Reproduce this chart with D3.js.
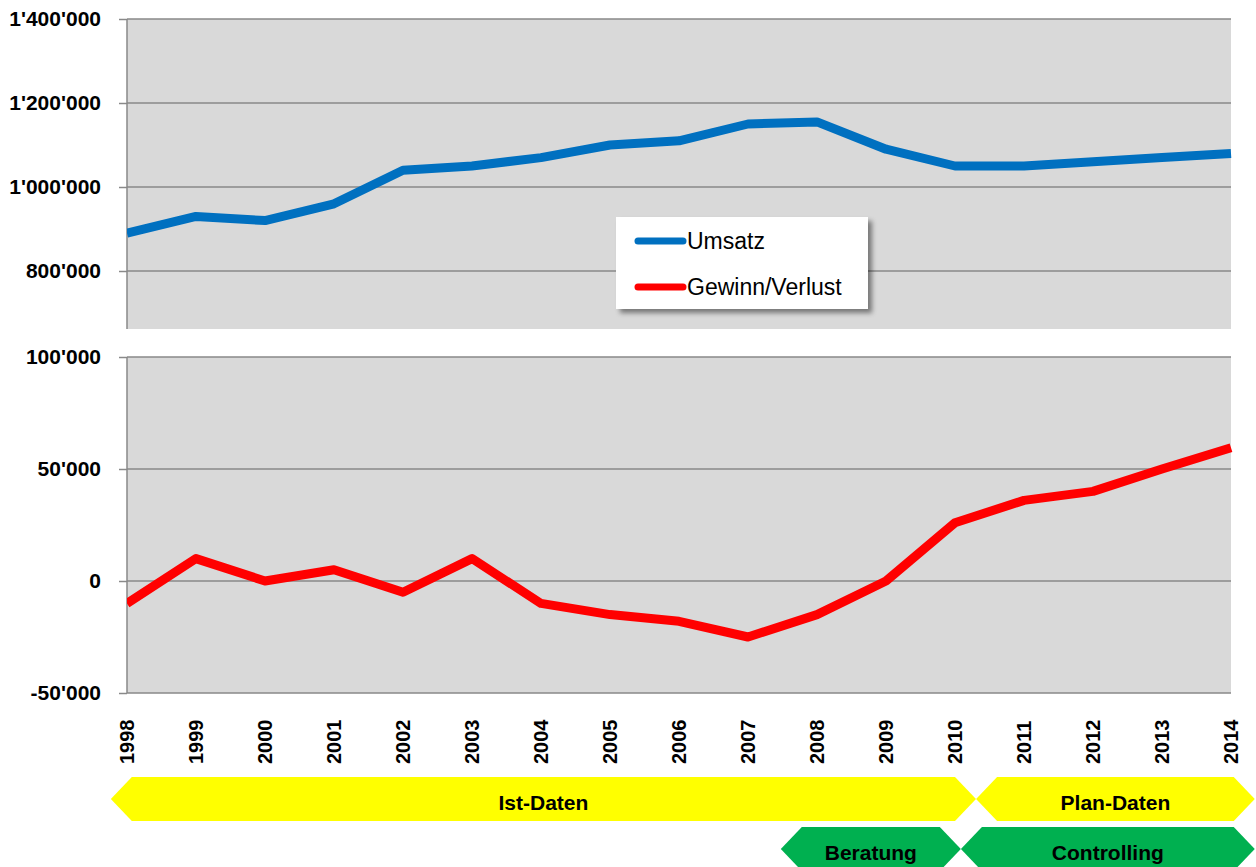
<!DOCTYPE html>
<html>
<head>
<meta charset="utf-8">
<script src="https://cdn.jsdelivr.net/npm/d3@7"></script>
<style>
  html, body { margin: 0; padding: 0; background: #fff; }
  svg { display: block; font-family: "Liberation Sans", Arial, sans-serif; }
</style>
</head>
<body>
<svg id="chart" width="1256" height="867"></svg>
<script>
// ---- data ----
const years = [1998,1999,2000,2001,2002,2003,2004,2005,2006,2007,2008,2009,2010,2011,2012,2013,2014];
const umsatz = [890000,930000,920000,960000,1040000,1050000,1070000,1100000,1110000,1150000,1155000,1090000,1050000,1050000,1060000,1070000,1080000];
const gewinn = [-10000,10000,0,5000,-5000,10000,-10000,-15000,-18000,-25000,-15000,0,26000,36000,40000,50000,59500];
const topTicks = [800000,1000000,1200000,1400000];
const bottomTicks = [-50000,0,50000,100000];
const seriesNames = ["Umsatz","Gewinn/Verlust"];
const phaseLabels = ["Ist-Daten","Plan-Daten","Beratung","Controlling"];
const phaseStart = [1998.07,2010.61,2007.78,2010.39];
const phaseEnd   = [2010,2014.04,2009.78,2014.04];
const phaseRow   = [0,0,1,1];

// ---- layout ----
const svg = d3.select("#chart");
const colors = { blue: "#0070C0", red: "#FF0000", grid: "#898989", bg: "#D9D9D9", yellow: "#FFFF00", green: "#00B050" };
const x = d3.scaleLinear().domain([1998, 2014]).range([127, 1231]);
const yTop = d3.scaleLinear().domain([800000, 1400000]).range([271, 19]);
const yBot = d3.scaleLinear().domain([-50000, 100000]).range([693, 357]);
const topPanel = { y0: 19, y1: 329 };
const botPanel = { y0: 357, y1: 693 };
const fmt = v => d3.format(",")(v).replace(/,/g, "'").replace(/\u2212/g, "-");

function panel(yScale, p, ticks, data, color, clipId) {
  svg.append("rect").attr("x", x(1998)).attr("y", p.y0)
    .attr("width", x(2014) - x(1998)).attr("height", p.y1 - p.y0).attr("fill", colors.bg);
  // gridlines
  svg.append("g").selectAll("line").data(ticks).join("line")
    .attr("x1", x(1998)).attr("x2", x(2014))
    .attr("y1", d => yScale(d)).attr("y2", d => yScale(d))
    .attr("stroke", colors.grid).attr("stroke-width", 1.5);
  // axis
  const ax = svg.append("g").attr("transform", `translate(${x(1998)},0)`)
    .call(d3.axisLeft(yScale).tickValues(ticks).tickSize(8).tickPadding(18).tickFormat(fmt));
  ax.select(".domain").remove();
  ax.selectAll(".tick line").attr("stroke", colors.grid).attr("stroke-width", 1.5);
  ax.selectAll(".tick text").attr("font-size", 21).attr("font-weight", "bold")
    .attr("fill", "#000").attr("font-family", "'Liberation Sans', Arial, sans-serif");
  svg.append("line").attr("x1", x(1998)).attr("x2", x(1998))
    .attr("y1", p.y0).attr("y2", p.y1).attr("stroke", colors.grid).attr("stroke-width", 1.5);
  // clip
  svg.append("clipPath").attr("id", clipId).append("rect")
    .attr("x", x(1998)).attr("y", p.y0 - 10).attr("width", x(2014) - x(1998) + 2).attr("height", p.y1 - p.y0 + 20);
  const line = d3.line().x((d, i) => x(years[i])).y(d => yScale(d));
  svg.append("path").datum(data).attr("d", line)
    .attr("fill", "none").attr("stroke", color).attr("stroke-width", 9)
    .attr("stroke-linejoin", "round").attr("stroke-linecap", "butt")
    .attr("clip-path", `url(#${clipId})`);
}

panel(yTop, topPanel, topTicks, umsatz, colors.blue, "c1");
panel(yBot, botPanel, bottomTicks, gewinn, colors.red, "c2");

// year labels
svg.append("g").selectAll("text").data(years).join("text")
  .attr("transform", d => `translate(${x(d)},764) rotate(-90)`)
  .attr("dy", "0.36em").attr("text-anchor", "start")
  .attr("font-size", 20).attr("font-weight", "bold").attr("fill", "#000")
  .text(d => d);

// legend
const defs = svg.append("defs");
const f = defs.append("filter").attr("id", "shadow").attr("x", "-10%").attr("y", "-20%").attr("width", "130%").attr("height", "150%");
f.append("feDropShadow").attr("dx", 4).attr("dy", 4).attr("stdDeviation", 2.5)
  .attr("flood-color", "#000").attr("flood-opacity", 0.45);
const lg = svg.append("g");
lg.append("rect").attr("x", 616).attr("y", 217).attr("width", 252).attr("height", 92)
  .attr("fill", "#fff").attr("filter", "url(#shadow)");
const lcolors = [colors.blue, colors.red];
seriesNames.forEach((name, i) => {
  const yy = 241 + i * 46;
  lg.append("line").attr("x1", 638).attr("x2", 683).attr("y1", yy).attr("y2", yy)
    .attr("stroke", lcolors[i]).attr("stroke-width", 7).attr("stroke-linecap", "round");
  lg.append("text").attr("x", 687).attr("y", yy).attr("dy", "0.36em")
    .attr("font-size", 23).attr("fill", "#000").text(name);
});

// phase arrows
const rowTop = [777, 827], rowH = 44, tip = 21;
const phaseColors = [colors.yellow, colors.yellow, colors.green, colors.green];
phaseLabels.forEach((lab, i) => {
  const x0 = x(phaseStart[i]), x1 = x(phaseEnd[i]);
  const t = rowTop[phaseRow[i]], b = t + rowH, m = t + rowH / 2;
  svg.append("path")
    .attr("d", `M${x0},${t}L${x1},${t}L${x1 + tip},${m}L${x1},${b}L${x0},${b}L${x0 - tip},${m}Z`)
    .attr("fill", phaseColors[i]);
  svg.append("text").attr("x", (x0 + x1) / 2).attr("y", m + 3).attr("dy", "0.36em")
    .attr("text-anchor", "middle").attr("font-size", 21).attr("font-weight", "bold")
    .attr("fill", "#000").text(lab);
});
</script>
</body>
</html>
